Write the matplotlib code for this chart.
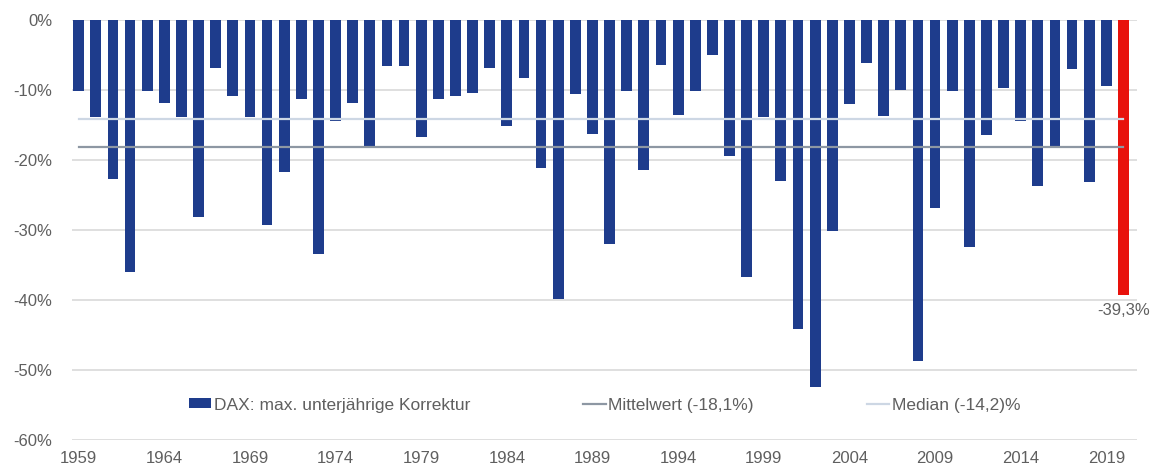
import matplotlib.pyplot as plt
import numpy as np

plt.rcParams['font.family'] = ['Liberation Sans', 'DejaVu Sans']

# max. unterjährige Korrektur des DAX je Jahr (in %)
years = list(range(1959, 2021))
korrektur = [
    -10.2, -13.9, -22.7, -36.0, -10.1, -11.9, -13.9, -28.2, -6.9, -10.9,
    -13.9, -29.3, -21.7, -11.3, -33.4, -14.5, -11.8, -18.0, -6.6, -6.6,
    -16.8, -11.3, -10.8, -10.4, -6.8, -15.2, -8.3, -21.2, -39.9, -10.6,
    -16.3, -32.0, -10.1, -21.5, -6.4, -13.6, -10.2, -5.0, -19.4, -36.8,
    -13.9, -23.0, -44.2, -52.4, -30.1, -12.0, -6.2, -13.7, -10.0, -48.7,
    -26.9, -10.1, -32.4, -16.4, -9.7, -14.4, -23.7, -18.3, -7.0, -23.2,
    -9.4, -39.3,
]
mittelwert = -18.1
median = -14.2
yticks = [0, -10, -20, -30, -40, -50, -60]

blau = '#1e3c8c'
rot = '#e8120c'
text_farbe = '#5f5f5f'

fig = plt.figure(figsize=(11.58, 4.74), dpi=100)
ax = fig.add_axes([0.062, 0.072, 0.920, 0.886])

x = np.arange(len(years))
farben = [blau] * (len(years) - 1) + [rot]
bars = ax.bar(x, korrektur, width=0.63, color=farben, zorder=2,
              label='DAX: max. unterjährige Korrektur')

# Mittelwert und Median als Linien über alle Jahre
l_mittel, = ax.plot(x, [mittelwert] * len(x), color='#8d97a3', linewidth=1.6,
                    zorder=3, label='Mittelwert (-18,1%)')
l_median, = ax.plot(x, [median] * len(x), color='#cdd7e4', linewidth=1.6,
                    zorder=3, label='Median (-14,2)%')

# Wert des aktuellen Jahres
ax.text(x[-1], korrektur[-1] - 1.2, '-39,3%', ha='center', va='top',
        fontsize=12, color=text_farbe)

ax.set_xlim(-0.4, 61.8)
ax.set_ylim(-60, 0)
ax.set_yticks(yticks)
ax.set_yticklabels([f'{v}%' for v in yticks])
ax.set_xticks(x[::5])
ax.set_xticklabels([str(y) for y in years[::5]])
ax.tick_params(length=0, labelsize=12, colors=text_farbe)
ax.tick_params(axis='y', pad=14)
ax.tick_params(axis='x', pad=8)

ax.grid(axis='y', color='#d9d9d9', linewidth=1.2, zorder=0)
for s in ax.spines.values():
    s.set_visible(False)

leg = ax.legend(handles=[bars, l_mittel, l_median],
                loc='center', bbox_to_anchor=(0.5, 0.083), ncol=3,
                frameon=False, fontsize=12.5, handlelength=1.3,
                handletextpad=0.15, columnspacing=6.5, handleheight=0.5)
for t in leg.get_texts():
    t.set_color(text_farbe)

fig.savefig('out.png', dpi=100)
